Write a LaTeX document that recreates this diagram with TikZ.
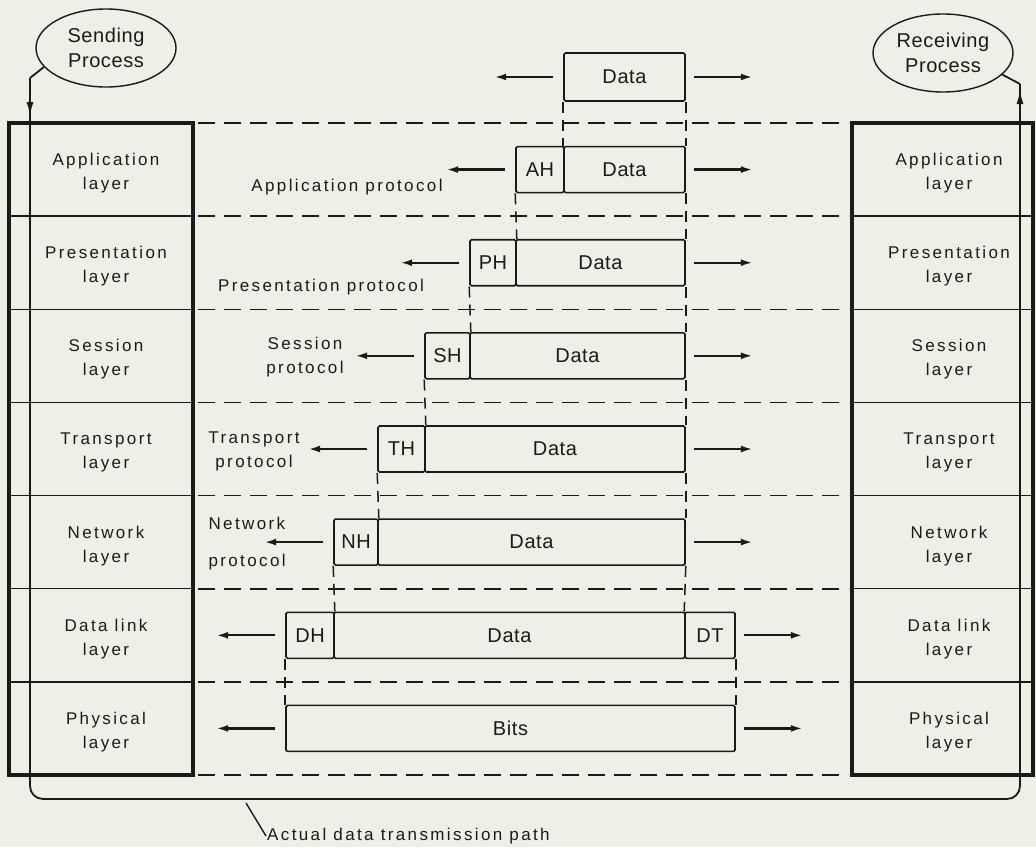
\documentclass[tikz,border=0pt]{standalone}
\usepackage{fontspec}
\setmainfont{Liberation Sans}
\newfontfamily\lblfont[LetterSpace=14]{Liberation Sans}
\newfontfamily\boxfont[LetterSpace=3]{Liberation Sans}
\usetikzlibrary{shapes.geometric,arrows.meta,calc}
\definecolor{paper}{HTML}{F0EFE7}
\definecolor{ink}{HTML}{1A1A1A}

\begin{document}
\begin{tikzpicture}[x=1pt,y=-1pt,
  every node/.style={text=ink},
  layerbox/.style={draw=ink, line width=3.2pt},
  divider/.style={draw=ink, line width=1.5pt},
  rowline/.style={draw=ink, line width=1.6pt, dash pattern=on 17pt off 9pt},
  edgeline/.style={draw=ink, line width=1.5pt, dash pattern=on 11pt off 7pt},
  pdu/.style={draw=ink, line width=1.6pt, rounded corners=1.5pt, minimum height=46pt,
              inner sep=0pt, font=\boxfont\fontsize{20}{24}\selectfont},
  layertxt/.style={align=center, font=\lblfont\fontsize{17}{24}\selectfont},
  proto/.style={font=\lblfont\fontsize{17}{24}\selectfont},
  hop/.style={draw=ink, line width=2.3pt, -{Latex[length=12pt,width=7pt]}},
  route/.style={draw=ink, line width=1.8pt},
  proc/.style={ellipse, draw=ink, line width=1.4pt, minimum width=140pt, minimum height=78pt,
               inner sep=0pt, align=center, font=\boxfont\fontsize{20}{25}\selectfont},
]
\useasboundingbox (0,0) rectangle (1036,847);
\fill[paper] (0,0) rectangle (1036,847);

% layer stacks of the two hosts
\draw[layerbox] (9,123) rectangle (193,775);
\draw[layerbox] (852,123) rectangle (1033,775);
\foreach \y in {216.1,309.3,402.4,495.6,588.7,681.9} {
  \draw[divider] (9,\y) -- (193,\y);
  \draw[divider] (852,\y) -- (1033,\y);
}
\foreach \nm/\txt/\yy in {A/Application/173.1, P/Presentation/266.2, S/Session/359.3,
    T/Transport/452.5, N/Network/545.6, D/Data link/638.8, H/Physical/731.9} {
  \node[layertxt] (s\nm) at (106,\yy) {\txt\\layer};
  \node[layertxt] (r\nm) at (949,\yy) {\txt\\layer};
}

% peer-level boundaries
\foreach \y in {123,216.1,309.3,402.4,495.6,588.7,681.9,775}
  \draw[rowline] (198,\y) -- (848,\y);

% protocol data units
\node[pdu, minimum width=121pt, minimum height=48pt] (d0) at (624.5,77) {Data};
\node[pdu, minimum width=48pt]  (hA) at (540,169.6)   {AH};
\node[pdu, minimum width=121pt] (dA) at (624.5,169.6) {Data};
\node[pdu, minimum width=46pt]  (hP) at (493,262.7)   {PH};
\node[pdu, minimum width=169pt] (dP) at (600.5,262.7) {Data};
\node[pdu, minimum width=45pt]  (hS) at (447.5,355.8) {SH};
\node[pdu, minimum width=215pt] (dS) at (577.5,355.8) {Data};
\node[pdu, minimum width=47pt]  (hT) at (401.5,449)   {TH};
\node[pdu, minimum width=260pt] (dT) at (555,449)     {Data};
\node[pdu, minimum width=44pt]  (hN) at (356,542.1)   {NH};
\node[pdu, minimum width=307pt] (dN) at (531.5,542.1) {Data};
\node[pdu, minimum width=48pt]  (hD) at (310,635.3)   {DH};
\node[pdu, minimum width=351pt] (dD) at (509.5,635.3) {Data};
\node[pdu, minimum width=50pt]  (tD) at (710,635.3)   {DT};
\node[pdu, minimum width=449pt] (bits) at (510.5,728.4) {Bits};

% encapsulation guides
\draw[edgeline] (d0.south west) -- (dA.north west);
\draw[edgeline] (d0.south east) -- (dA.north east);
\draw[edgeline] (hA.south west) -- (hP.north east);
\draw[edgeline] (dA.south east) -- (dP.north east);
\draw[edgeline] (hP.south west) -- (hS.north east);
\draw[edgeline] (dP.south east) -- (dS.north east);
\draw[edgeline] (hS.south west) -- (hT.north east);
\draw[edgeline] (dS.south east) -- (dT.north east);
\draw[edgeline] (hT.south west) -- (hN.north east);
\draw[edgeline] (dT.south east) -- (dN.north east);
\draw[edgeline] (hN.south west) -- (hD.north east);
\draw[edgeline] (dN.south east) -- (tD.north west);
\draw[edgeline] (hD.south west) -- (bits.north west);
\draw[edgeline] (tD.south east) -- (bits.north east);

% flow arrows on each level
\foreach \n in {d0,hA,hP,hS,hT,hN,hD,bits}
  \draw[hop] ([xshift=-10pt]\n.west) -- ++(-59,0);
\foreach \n in {d0,dA,dP,dS,dT,dN,tD,bits}
  \draw[hop] ([xshift=8pt]\n.east) -- ++(59,0);

% protocol names
\node[proto] (pApp) at (347,187) {Application protocol};
\node[proto] (pPres) at (321,287) {Presentation protocol};
\node[proto, align=center] (pSes) at (305,357) {Session\\protocol};
\node[proto, align=center] (pTra) at (254,451) {Transport\\protocol};
\node[proto, align=left, anchor=west] (pNet) at (205,544) {Network\\[13pt]protocol};

% end processes and the physical path between them
\node[proc] (send) at (106,48) {Sending\\Process};
\node[proc] (recv) at (943,53) {Receiving\\Process};

\coordinate (sTop) at (30,78);
\coordinate (sBot) at (30,799);
\coordinate (rBot) at (1020,799);
\coordinate (rTop) at (1020,84);
\draw[route] (send.197) -- (sTop);
\draw[route, rounded corners=13pt] (sTop) -- (sBot) -- (rBot) -- (rTop);
\draw[route] (rTop) -- (recv.-20);
\draw[route, -{Latex[length=14pt,width=7pt]}] (sTop) -- ($(sTop)+(0,38)$);
\draw[route, -{Latex[length=14pt,width=7pt]}] ($(rTop)+(0,28)$) -- ($(rTop)+(0,6)$);

\coordinate (lead) at (246,803);
\node[proto, anchor=west, inner sep=1pt] (pathlbl) at (266,836) {Actual data transmission path};
\draw[ink, line width=1.4pt] (lead) -- (pathlbl.west);
\end{tikzpicture}
\end{document}
